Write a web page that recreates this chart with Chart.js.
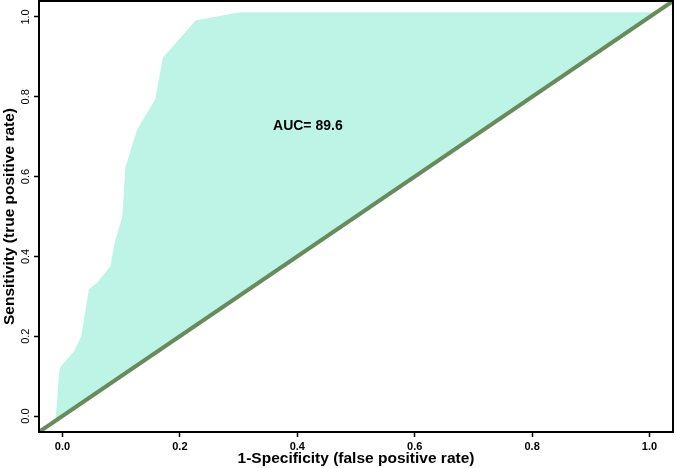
<!DOCTYPE html>
<html>
<head>
<meta charset="utf-8">
<script src="https://cdn.jsdelivr.net/npm/chart.js@4/dist/chart.umd.min.js"></script>
<style>
  html, body { margin: 0; padding: 0; background: #fff; }
</style>
</head>
<body>
<canvas id="rocChart" width="676" height="468"></canvas>
<script>
// ROC curve points
const fpr = [-0.012, -0.005, -0.002, 0.020, 0.032, 0.045, 0.059, 0.082, 0.088, 0.102, 0.107, 0.127, 0.158, 0.171, 0.227, 0.303, 1.012];
const tpr = [-0.012, 0.118, 0.126, 0.163, 0.200, 0.318, 0.334, 0.376, 0.430, 0.500, 0.622, 0.718, 0.793, 0.898, 0.992, 1.012, 1.012];
// chance line
const refX = [-0.04, 1.04];
const refY = [-0.04, 1.04];
const xTicks = [0, 0.2, 0.4, 0.6, 0.8, 1.0];
const yTicks = [0, 0.2, 0.4, 0.6, 0.8, 1.0];
const aucText = 'AUC= 89.6';

const frame = {
    id: 'frame',
    afterDraw(chart) {
        const { ctx, chartArea: a, scales } = chart;
        ctx.save();
        ctx.strokeStyle = '#000';
        ctx.lineWidth = 2;
        ctx.strokeRect(a.left, a.top, a.right - a.left, a.bottom - a.top);
        ctx.fillStyle = '#000';
        ctx.font = 'bold 14px "Liberation Sans", Arial, sans-serif';
        ctx.textAlign = 'center';
        ctx.textBaseline = 'middle';
        ctx.fillText(aucText, scales.x.getPixelForValue(0.418), scales.y.getPixelForValue(0.727));
        ctx.restore();
    }
};

const titleFont = { family: '"Liberation Sans", Arial, sans-serif', size: 15.5, weight: 'bold' };

const ctx = document.getElementById('rocChart').getContext('2d');

new Chart(ctx, {
    type: 'line',
    data: {
        datasets: [{
            data: fpr.map((x, i) => ({ x: x, y: tpr[i] })),
            borderWidth: 0,
            pointRadius: 0,
            backgroundColor: '#bdf4e6',
            fill: '+1',
            order: 1
        }, {
            data: refX.map((x, i) => ({ x: x, y: refY[i] })),
            borderColor: '#688a5c',
            borderWidth: 4,
            pointRadius: 0,
            fill: false,
            order: 0
        }]
    },
    options: {
        responsive: false,
        animation: false,
        layout: { padding: { top: 1, right: 3, left: 0, bottom: 0 } },
        plugins: {
            legend: { display: false },
            tooltip: { enabled: false }
        },
        scales: {
            x: {
                type: 'linear',
                min: -0.04,
                max: 1.04,
                afterBuildTicks: s => { s.ticks = xTicks.map(v => ({ value: v })); },
                afterFit: s => { s.height = 36; s.paddingLeft = 0; s.paddingRight = 0; },
                border: { color: '#000', width: 2 },
                grid: { drawOnChartArea: false, color: '#000', tickLength: 5, tickWidth: 1.5 },
                ticks: {
                    color: '#000',
                    padding: 3,
                    maxRotation: 0,
                    font: { family: '"Liberation Sans", Arial, sans-serif', size: 11, weight: 'bold' },
                    callback: v => v.toFixed(1)
                },
                title: {
                    display: true,
                    text: '1-Specificity (false positive rate)',
                    color: '#000',
                    padding: { top: 0, bottom: 0 },
                    font: titleFont
                }
            },
            y: {
                type: 'linear',
                min: -0.04,
                max: 1.04,
                afterBuildTicks: s => { s.ticks = yTicks.map(v => ({ value: v })); },
                afterFit: s => { s.width = 39; s.paddingTop = 0; s.paddingBottom = 0; },
                border: { color: '#000', width: 2 },
                grid: { drawOnChartArea: false, color: '#000', tickLength: 5, tickWidth: 1.5 },
                ticks: {
                    color: '#000',
                    padding: 0,
                    minRotation: 90,
                    maxRotation: 90,
                    crossAlign: 'center',
                    font: { family: '"Liberation Sans", Arial, sans-serif', size: 11 },
                    callback: v => v.toFixed(1)
                },
                title: {
                    display: true,
                    text: 'Sensitivity (true positive rate)',
                    color: '#000',
                    padding: { top: 0, bottom: 0 },
                    font: titleFont
                }
            }
        }
    },
    plugins: [frame]
});
</script>
</body>
</html>
